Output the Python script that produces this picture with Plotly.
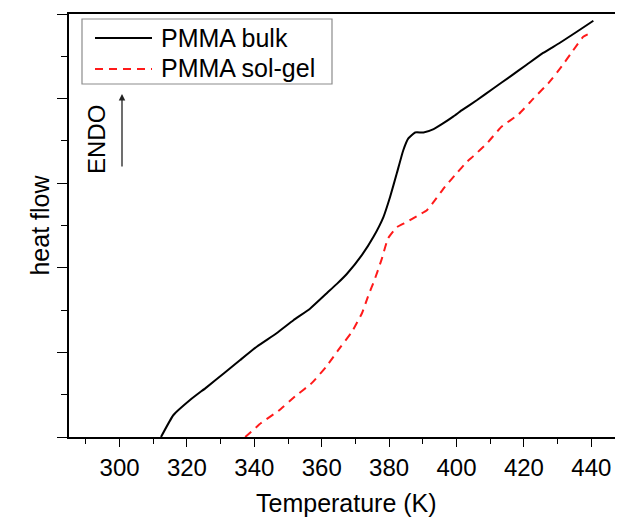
import plotly.graph_objects as go

# PMMA bulk (black solid)
T_bulk = [312.3, 316.0, 321.0, 325.9, 330.9, 335.8, 340.8, 346.7, 351.6, 356.6, 361.5,
          364.5, 367.5, 371.9, 375.4, 378.3, 380.3, 382.3, 384.2, 385.7, 387.7, 390.2,
          393.2, 396.1, 399.1, 401.5, 406.0, 410.9, 415.9, 420.8, 425.7, 430.7, 435.7, 440.6]
hf_bulk = [0.0, 0.26, 0.44, 0.59, 0.75, 0.91, 1.07, 1.23, 1.38, 1.52, 1.70,
           1.81, 1.93, 2.15, 2.37, 2.60, 2.84, 3.12, 3.39, 3.53, 3.60, 3.60,
           3.64, 3.71, 3.79, 3.86, 3.98, 4.12, 4.26, 4.40, 4.54, 4.66, 4.79, 4.92]

# PMMA sol-gel (red dashed)
T_solgel = [337.3, 342.0, 347.2, 352.1, 357.1, 361.3, 365.5, 368.9, 371.9, 373.9, 375.6,
            377.7, 379.7, 382.3, 385.2, 388.2, 391.2, 393.6, 396.6, 400.1, 403.0, 405.0,
            409.0, 413.4, 418.3, 422.8, 427.2, 431.2, 434.6, 437.6, 440.1]
hf_solgel = [0.0, 0.165, 0.31, 0.48, 0.64, 0.83, 1.06, 1.24, 1.46, 1.68, 1.85,
             2.09, 2.35, 2.48, 2.54, 2.61, 2.68, 2.80, 2.96, 3.12, 3.25, 3.32,
             3.47, 3.67, 3.81, 4.00, 4.18, 4.38, 4.57, 4.73, 4.78]

series_names = ["PMMA bulk", "PMMA sol-gel"]
x_tickvals = [300, 320, 340, 360, 380, 400, 420, 440]
x_title = "Temperature (K)"
y_title = "heat flow"

FONT = "Liberation Sans, Arial, sans-serif"
OFF = 8  # page body margin offset
W, H = 623 - OFF, 517 - OFF
L, R, T, B = 69 - OFF, 0, 14 - OFF, 80
pw, ph = W - L - R, H - T - B

def px(x):
    return (x - OFF - L) / pw

def py(y):
    return (H - B - (y - OFF)) / ph

fig = go.Figure()
fig.add_trace(go.Scatter(x=T_bulk, y=hf_bulk, mode="lines", name=series_names[0],
                         line=dict(color="#000000", width=2, shape="spline", smoothing=0.4),
                         showlegend=False))
fig.add_trace(go.Scatter(x=T_solgel, y=hf_solgel, mode="lines", name=series_names[1],
                         line=dict(color="#ff1a1a", width=2, dash="8px,6px", shape="spline", smoothing=0.4),
                         showlegend=False))

# legend drawn as box + sample lines + text
shapes = [
    dict(type="rect", xref="paper", yref="paper", x0=px(82), x1=px(332), y0=py(19), y1=py(84),
         line=dict(color="#8c8c8c", width=1.2), fillcolor="rgba(0,0,0,0)"),
    dict(type="line", xref="paper", yref="paper", x0=px(95), x1=px(152), y0=py(38), y1=py(38),
         line=dict(color="#000000", width=2)),
    dict(type="line", xref="paper", yref="paper", x0=px(95), x1=px(152), y0=py(69), y1=py(69),
         line=dict(color="#ff1a1a", width=2, dash="8px,6px")),
]
annotations = [
    dict(text=series_names[0], xref="paper", yref="paper", x=px(159), y=py(38),
         xanchor="left", yanchor="middle", showarrow=False, font=dict(family=FONT, size=25, color="#000")),
    dict(text=series_names[1], xref="paper", yref="paper", x=px(159), y=py(68),
         xanchor="left", yanchor="middle", showarrow=False, font=dict(family=FONT, size=25, color="#000")),
    dict(text="ENDO", xref="paper", yref="paper", x=px(96), y=py(140), textangle=-90,
         xanchor="center", yanchor="middle", showarrow=False, font=dict(family=FONT, size=24, color="#000")),
    dict(text="", xref="paper", yref="paper", x=px(122), y=py(94), ax=0, ay=74,
         showarrow=True, arrowhead=2, arrowsize=1, arrowwidth=1.3, arrowcolor="#222"),
    dict(text=x_title, xref="paper", yref="paper", x=px(346), y=py(503),
         xanchor="center", yanchor="middle", showarrow=False, font=dict(family=FONT, size=25, color="#000")),
]

fig.update_layout(
    width=W, height=H,
    margin=dict(l=L, r=R, t=T, b=B, autoexpand=False),
    paper_bgcolor="white", plot_bgcolor="white",
    font=dict(family=FONT, size=24, color="#000"),
    shapes=shapes, annotations=annotations,
    showlegend=False,
)
fig.update_xaxes(
    range=[285, 449.4], tickvals=x_tickvals, ticktext=[str(v) for v in x_tickvals],
    ticks="outside", ticklen=8, tickwidth=1.3, tickcolor="#000",
    minor=dict(dtick=10, tick0=280, ticks="outside", ticklen=5, tickwidth=1.3, tickcolor="#000"),
    showline=True, linecolor="#000", linewidth=1.5, mirror=True,
    showgrid=False, zeroline=False, automargin=False,
    tickfont=dict(family=FONT, size=24, color="#000"),
)
fig.update_yaxes(
    range=[0, 5], dtick=1, tick0=0, showticklabels=False,
    ticks="outside", ticklen=10, tickwidth=1.3, tickcolor="#000",
    minor=dict(dtick=0.5, tick0=0, ticks="outside", ticklen=6, tickwidth=1.3, tickcolor="#000"),
    showline=True, linecolor="#000", linewidth=1.5, mirror=False,
    showgrid=False, zeroline=False, automargin=False,
    title=dict(text=y_title, font=dict(family=FONT, size=25, color="#000"), standoff=1),
)

fig.write_html("out.html")
